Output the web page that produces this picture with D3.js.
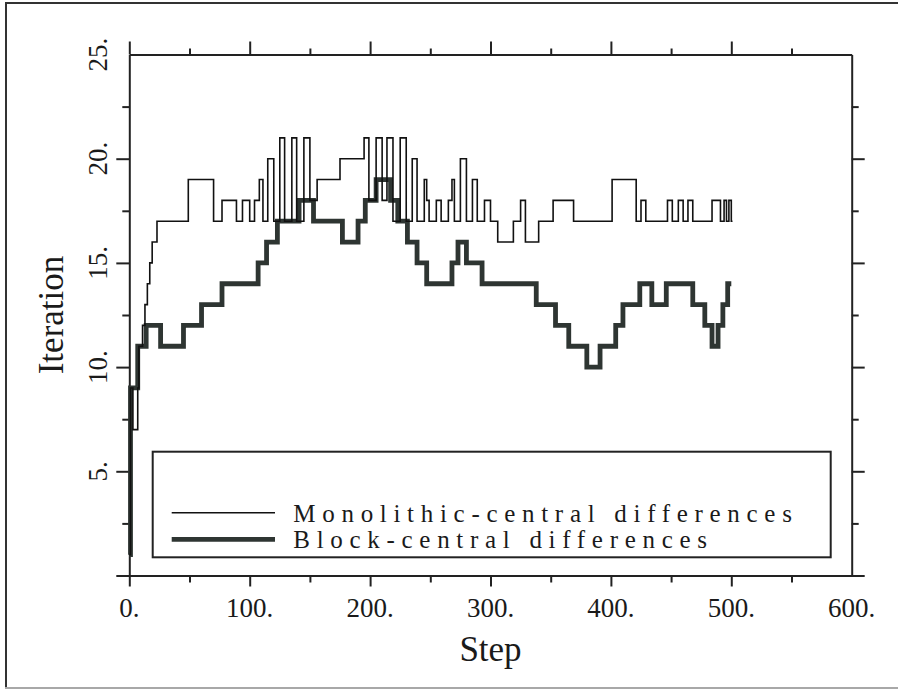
<!DOCTYPE html>
<html>
<head>
<meta charset="utf-8">
<script src="https://cdn.jsdelivr.net/npm/d3@7"></script>
<style>
  html, body { margin: 0; padding: 0; background: #fff; }
  svg { display: block; }
  text { font-family: "Liberation Serif", "DejaVu Serif", serif; fill: #1a1a1a; }
</style>
</head>
<body>
<svg id="chart" width="898" height="691"></svg>
<script>
// ---- Data ----
// Monolithic-central differences: step at which the value changes, and new value
const monoSteps  = [0, 1, 3, 7, 8, 11, 13, 15, 17, 19, 23, 49, 70, 77, 89, 94, 100, 104, 108, 111,
  115, 120, 125, 129, 135, 139, 145, 150, 156, 175, 195, 199, 205, 210, 214, 219, 225, 230, 235, 239,
  245, 247, 249, 255, 259, 265, 268, 270, 275, 280, 285, 289, 295, 300, 306, 319, 325, 329, 340, 352,
  369, 401, 421, 425, 429, 447, 451, 456, 460, 464, 468, 484, 491, 494, 496, 498, 500, 501];
const monoValues = [1, 9, 7, 9, 11, 12, 13, 14, 15, 16, 17, 19, 17, 18, 17, 18, 17, 18, 19, 17,
  20, 17, 21, 17, 21, 17, 21, 18, 19, 20, 21, 18, 21, 18, 21, 17, 21, 17, 20, 17,
  19, 18, 17, 18, 17, 18, 19, 17, 20, 17, 19, 17, 18, 17, 16, 17, 18, 16, 17, 18,
  17, 19, 17, 18, 17, 18, 17, 18, 17, 18, 17, 18, 17, 18, 17, 18, 17, 17];

// Block-central differences
const blockSteps  = [0, 1, 7, 14, 26, 45, 60, 77, 107, 114, 123, 141, 153, 177, 190, 196, 205, 217,
  223, 231, 239, 247, 268, 273, 280, 293, 338, 354, 365, 380, 391, 404, 410, 424, 434, 446, 468,
  478, 484, 489, 493, 497, 500];
const blockValues = [1, 9, 11, 12, 11, 12, 13, 14, 15, 16, 17, 18, 17, 16, 17, 18, 19, 18,
  17, 16, 15, 14, 15, 16, 15, 14, 13, 12, 11, 10, 11, 12, 13, 14, 13, 14, 13,
  12, 11, 12, 13, 14, 14];

const xTicks = [0, 50, 100, 150, 200, 250, 300, 350, 400, 450, 500, 550];
const xLabels = [0, 100, 200, 300, 400, 500, 600];
const yTicks = [0, 2.5, 5, 7.5, 10, 12.5, 15, 17.5, 20, 22.5];
const yLabels = [5, 10, 15, 20, 25];
const seriesNames = ["Monolithic-central differences", "Block-central differences"];

// ---- Drawing ----
const svg = d3.select("#chart");
const x = d3.scaleLinear().domain([0, 600]).range([129.3, 851.7]);
const y = d3.scaleLinear().domain([0, 25]).range([575.5, 54.5]);

// outer border
svg.append("line").attr("x1", 5).attr("y1", 3).attr("x2", 898).attr("y2", 3)
  .attr("stroke", "#333").attr("stroke-width", 2);
svg.append("line").attr("x1", 6).attr("y1", 3).attr("x2", 6).attr("y2", 688)
  .attr("stroke", "#333").attr("stroke-width", 2);
svg.append("line").attr("x1", 5).attr("y1", 688).attr("x2", 898).attr("y2", 688)
  .attr("stroke", "#a8a8a8").attr("stroke-width", 2);

const isMajorX = v => v % 100 === 0;
const isMajorY = v => v % 5 === 0;

function styleAxis(g, majorFn, majorLen, minorLen, dir) {
  g.select(".domain").attr("stroke", "#222").attr("stroke-width", 2);
  g.selectAll(".tick line").attr("stroke", "#222").attr("stroke-width", 2)
    .each(function(d) {
      const len = majorFn(d) ? majorLen : minorLen;
      const el = d3.select(this);
      if (dir === "x") el.attr("y2", len * (this.getAttribute("y2") < 0 ? -1 : 1));
      else el.attr("x2", len * (this.getAttribute("x2") < 0 ? -1 : 1));
    });
  g.selectAll(".tick text").remove();
}

svg.append("g").attr("transform", `translate(0,${y(0)})`)
  .call(d3.axisBottom(x).tickValues(xTicks).tickSizeOuter(0).tickFormat(""))
  .call(g => styleAxis(g, isMajorX, 11, 7, "x"));
svg.append("g").attr("transform", `translate(0,${y(25)})`)
  .call(d3.axisTop(x).tickValues(xTicks).tickSizeOuter(0).tickFormat(""))
  .call(g => styleAxis(g, isMajorX, 13, 6, "x"));
svg.append("g").attr("transform", `translate(${x(0)},0)`)
  .call(d3.axisLeft(y).tickValues(yTicks).tickSizeOuter(0).tickFormat(""))
  .call(g => styleAxis(g, isMajorY, 13, 7, "y"));
svg.append("g").attr("transform", `translate(${x(600)},0)`)
  .call(d3.axisRight(y).tickValues(yTicks).tickSizeOuter(0).tickFormat(""))
  .call(g => styleAxis(g, isMajorY, 13, 7, "y"));

// tick labels
svg.append("g").selectAll("text").data(xLabels).join("text")
  .attr("x", d => x(d)).attr("y", 617)
  .attr("text-anchor", "middle").attr("font-size", 27)
  .text(d => d + ".");
svg.append("g").selectAll("text").data(yLabels).join("text")
  .attr("transform", d => `translate(107,${y(d)}) rotate(-90)`)
  .attr("text-anchor", "middle").attr("font-size", 27)
  .text(d => d + ".");

// axis titles
svg.append("text").attr("x", (x(0) + x(600)) / 2).attr("y", 661)
  .attr("text-anchor", "middle").attr("font-size", 35).text("Step");
svg.append("text").attr("transform", `translate(63,${(y(0) + y(25)) / 2}) rotate(-90)`)
  .attr("text-anchor", "middle").attr("font-size", 35).text("Iteration");

// series
const line = d3.line().x(d => x(d[0])).y(d => y(d[1])).curve(d3.curveStepAfter);
const blockData = blockSteps.map((s, i) => [s, blockValues[i]]);
const monoData = monoSteps.map((s, i) => [s, monoValues[i]]);

svg.append("path").datum(blockData).attr("d", line)
  .attr("fill", "none").attr("stroke", "#2e3532").attr("stroke-width", 4.8)
  .attr("stroke-linejoin", "miter");
svg.append("path").datum(monoData).attr("d", line)
  .attr("fill", "none").attr("stroke", "#111").attr("stroke-width", 1.6);

// legend
const lg = svg.append("g");
lg.append("rect").attr("x", 152.7).attr("y", 451.7).attr("width", 678).attr("height", 105.6)
  .attr("fill", "#fff").attr("stroke", "#222").attr("stroke-width", 2);
const legendRows = [
  { name: seriesNames[0], width: 1.6, color: "#111", ly: 512.7, ty: 521.7 },
  { name: seriesNames[1], width: 4.8, color: "#2e3532", ly: 539.3, ty: 548.3 }
];
legendRows.forEach(r => {
  lg.append("line").attr("x1", 171.7).attr("x2", 275).attr("y1", r.ly).attr("y2", r.ly)
    .attr("stroke", r.color).attr("stroke-width", r.width);
  lg.append("text").attr("x", 293.3).attr("y", r.ty).attr("font-size", 25)
    .attr("letter-spacing", 6.7).text(r.name);
});
</script>
</body>
</html>
